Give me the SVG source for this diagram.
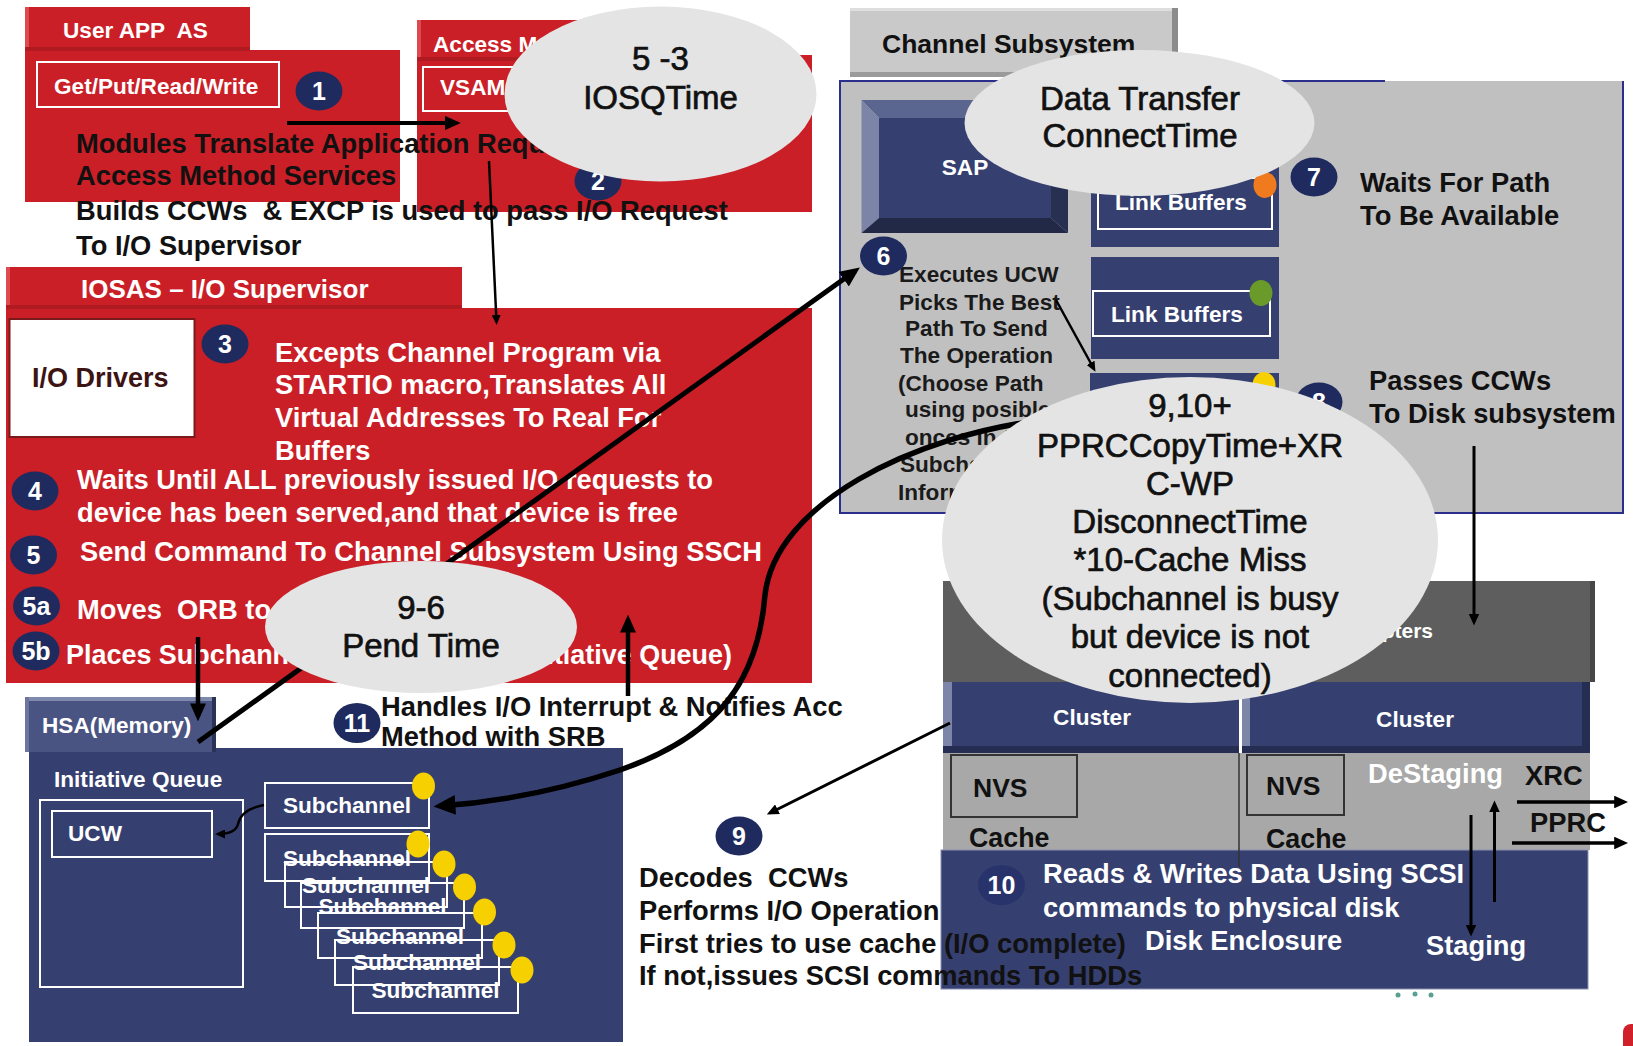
<svg xmlns="http://www.w3.org/2000/svg" width="1633" height="1046" viewBox="0 0 1633 1046">
<style>
  text{font-family:"Liberation Sans",Arial,Helvetica,sans-serif}
  .b{font-weight:bold}
  .s{font-size:22.6px}
  .m{font-size:27.3px}
  .e{font-size:33px;fill:#111;stroke:#111;stroke-width:0.7;text-anchor:middle}
  .w{fill:#fff}
  .k{fill:#111}
  .red{fill:#cb1f27}
  .navy{fill:#364070}
  .wbox{fill:none;stroke:#fff;stroke-width:2}
  .gbox{fill:none;stroke:#333;stroke-width:2}
  .bubble{fill:#e4e4e4}
  .badge ellipse{fill:#1f2b5e}
  .badge text{fill:#fff;font-weight:bold;font-size:25px;text-anchor:middle}
  .ydot{fill:#f6d000}
  .conn path{fill:none;stroke:#000;marker-end:url(#ah)}
</style>
<defs>
  <marker id="ah" viewBox="0 0 10 9" refX="7" refY="4.5" markerWidth="4" markerHeight="3.6" orient="auto" markerUnits="strokeWidth">
    <path d="M0,0 L10,4.5 L0,9 z" fill="#000"/>
  </marker>
</defs>

<rect width="1633" height="1046" fill="#fff"/>

<!-- User application address space -->
<g id="user-app">
  <rect class="red" x="25" y="50" width="375" height="152"/>
  <rect class="red" x="25" y="7" width="225" height="44"/>
  <rect x="25" y="7" width="4" height="44" fill="#dd4a50"/>
  <rect x="25" y="47" width="225" height="4" fill="#b01a21"/>
  <text class="b s w" x="63" y="38" xml:space="preserve">User APP  AS</text>
  <rect class="wbox" x="37" y="62" width="242" height="45"/>
  <text class="b s w" x="54" y="94">Get/Put/Read/Write</text>
</g>

<!-- Access method -->
<g id="access-method">
  <rect class="red" x="417" y="55" width="395" height="157"/>
  <rect class="red" x="417" y="20" width="220" height="41"/>
  <rect x="417" y="20" width="4" height="41" fill="#dd4a50"/>
  <rect x="417" y="57" width="220" height="4" fill="#b01a21"/>
  <text class="b s w" x="433" y="52">Access Method</text>
  <rect class="wbox" x="423" y="67" width="170" height="44"/>
  <text class="b s w" x="440" y="95">VSAM</text>
</g>

<!-- IOS address space -->
<g id="iosas">
  <rect class="red" x="6" y="308" width="806" height="375"/>
  <rect class="red" x="6" y="267" width="456" height="42"/>
  <rect x="6" y="267" width="4" height="42" fill="#dd4a50"/>
  <rect x="6" y="305" width="456" height="4" fill="#b01a21"/>
  <text class="b w" x="81" y="298" font-size="26">IOSAS – I/O Supervisor</text>
  <rect x="9.5" y="319" width="185" height="118" fill="#fff" stroke="#7a1a1a" stroke-width="2"/>
  <text class="b" x="32" y="387" font-size="27" fill="#3d1414">I/O Drivers</text>
  <text class="b m w" x="275" y="362">Excepts Channel Program via</text>
  <text class="b m w" x="275" y="394">STARTIO macro,Translates All</text>
  <text class="b m w" x="275" y="427">Virtual Addresses To Real For</text>
  <text class="b m w" x="275" y="460">Buffers</text>
  <text class="b m w" x="77" y="489">Waits Until ALL previously issued I/O requests to</text>
  <text class="b m w" x="77" y="522">device has been served,and that device is free</text>
  <text class="b m w" x="80" y="561">Send Command To Channel Subsystem Using SSCH</text>
  <text class="b m w" x="77" y="619" xml:space="preserve">Moves  ORB to HSA</text>
  <text class="b m w" x="66" y="664" textLength="666" lengthAdjust="spacingAndGlyphs">Places Subchannel In UCW Queue (Initiative Queue)</text>
</g>

<!-- Explanatory text of steps 1 and 2 -->
<g id="step-text">
  <text class="b m k" x="76" y="153">Modules Translate Application Request To</text>
  <text class="b m k" x="76" y="185">Access Method Services</text>
  <text class="b m k" x="76" y="220" xml:space="preserve">Builds CCWs  &amp; EXCP is used to pass I/O Request</text>
  <text class="b m k" x="76" y="255">To I/O Supervisor</text>
</g>

<!-- HSA memory -->
<g id="hsa">
  <rect class="navy" x="29" y="748" width="594" height="294"/>
  <rect x="25" y="697" width="191" height="55" fill="#4a5482"/>
  <rect x="25" y="697" width="191" height="4" fill="#7f88ad"/>
  <rect x="25" y="697" width="4" height="55" fill="#6c76a0"/>
  <rect x="212" y="697" width="4" height="55" fill="#2a3258"/>
  <text class="b s w" x="42" y="733">HSA(Memory)</text>
  <text class="b s w" x="54" y="787">Initiative Queue</text>
  <rect class="wbox" x="40" y="800" width="203" height="187"/>
  <rect class="wbox" x="52" y="811" width="160" height="46"/>
  <text class="b s w" x="68" y="841">UCW</text>
</g>

<!-- Subchannel stack -->
<g id="subchannels">
  <rect class="wbox" x="265" y="783" width="164" height="45"/>
  <text class="b s w" x="347" y="813" text-anchor="middle">Subchannel</text>
  <ellipse class="ydot" cx="423.5" cy="786" rx="11.5" ry="13.5"/>
  <rect class="wbox" x="265" y="834" width="164" height="47"/>
  <text class="b s w" x="347" y="866" text-anchor="middle">Subchannel</text>
  <ellipse class="ydot" cx="418" cy="844" rx="11.5" ry="13.5"/>
  <rect class="wbox" x="285" y="862" width="162" height="45"/>
  <text class="b s w" x="366" y="893" text-anchor="middle">Subchannel</text>
  <ellipse class="ydot" cx="444" cy="864" rx="11.5" ry="13.5"/>
  <rect class="wbox" x="301" y="883" width="163" height="45"/>
  <text class="b s w" x="382.5" y="914" text-anchor="middle">Subchannel</text>
  <ellipse class="ydot" cx="464.5" cy="887" rx="11.5" ry="13.5"/>
  <rect class="wbox" x="318" y="913" width="164" height="45"/>
  <text class="b s w" x="400" y="944" text-anchor="middle">Subchannel</text>
  <ellipse class="ydot" cx="484.5" cy="912" rx="11.5" ry="13.5"/>
  <rect class="wbox" x="335" y="940" width="164" height="45"/>
  <text class="b s w" x="417" y="970" text-anchor="middle">Subchannel</text>
  <ellipse class="ydot" cx="504" cy="945" rx="11.5" ry="13.5"/>
  <rect class="wbox" x="353" y="967" width="165" height="46"/>
  <text class="b s w" x="435.5" y="998" text-anchor="middle">Subchannel</text>
  <ellipse class="ydot" cx="522" cy="970" rx="11.5" ry="13.5"/>
</g>

<!-- Channel subsystem -->
<g id="channel-subsystem">
  <rect x="840" y="81" width="783" height="432" fill="#c0c0c0"/>
  <path d="M1385,81 H840 V513 H1623 V81" fill="none" stroke="#2b2f8c" stroke-width="2"/>
  <rect x="850" y="8" width="328" height="69" fill="#c9c9c9"/>
  <rect x="850" y="8" width="328" height="3" fill="#dedede"/>
  <rect x="1172" y="8" width="6" height="69" fill="#8c8c8c"/>
  <rect x="850" y="72" width="328" height="5" fill="#9a9a9a"/>
  <text class="b k" x="882" y="53" font-size="26.5">Channel Subsystem</text>
</g>

<g id="sap">
  <polygon points="861.5,100 1068,100 1051,118 879,118" fill="#5b6690"/>
  <polygon points="861.5,100 879,118 879,218 861.5,233" fill="#7c85a7"/>
  <polygon points="1068,100 1068,233 1051,218 1051,118" fill="#283052"/>
  <polygon points="861.5,233 879,218 1051,218 1068,233" fill="#222947"/>
  <rect class="navy" x="879" y="118" width="172" height="100"/>
  <text class="b s w" x="965" y="175" text-anchor="middle">SAP</text>
</g>

<g id="link-buffers">
  <rect class="navy" x="1091" y="140" width="188" height="107"/>
  <rect class="wbox" x="1098" y="178" width="174" height="51"/>
  <text class="b s w" x="1115" y="210">Link Buffers</text>
  <ellipse cx="1265" cy="185" rx="11.5" ry="13" fill="#f07a1e"/>
  <rect class="navy" x="1091" y="257" width="188" height="102"/>
  <rect class="wbox" x="1093" y="291" width="177" height="45"/>
  <text class="b s w" x="1111" y="322">Link Buffers</text>
  <ellipse cx="1261" cy="293" rx="11.5" ry="13" fill="#6a9a2a"/>
  <rect class="navy" x="1090" y="373" width="189" height="105"/>
  <ellipse class="ydot" cx="1264" cy="385" rx="11.5" ry="13"/>
</g>

<g id="step6-text" class="b s" fill="#1a1a1a">
  <text x="899" y="282">Executes UCW</text>
  <text x="899" y="310">Picks The Best</text>
  <text x="905" y="336">Path To Send</text>
  <text x="900" y="363">The Operation</text>
  <text x="898" y="391">(Choose Path</text>
  <text x="905" y="417">using posible paths</text>
  <text x="905" y="445">onces in the</text>
  <text x="900" y="472">Subchannel</text>
  <text x="898" y="500">Information)</text>
</g>

<g id="step7-text" class="b m k">
  <text x="1360" y="192">Waits For Path</text>
  <text x="1360" y="225">To Be Available</text>
</g>

<g id="step8-text" class="b m k">
  <text x="1369" y="390">Passes CCWs</text>
  <text x="1369" y="423">To Disk subsystem</text>
</g>

<!-- Disk subsystem -->
<g id="disk-subsystem">
  <rect x="943" y="581" width="652" height="101" fill="#5e5e5e"/>
  <rect x="1590" y="581" width="5" height="101" fill="#474747"/>
  <text class="b w" x="1433" y="638" font-size="21" text-anchor="end">Host Adapters</text>
  <rect x="943" y="753" width="647" height="97" fill="#a8a8a8"/>
  <rect class="navy" x="943" y="682" width="296" height="71"/>
  <rect x="943" y="682" width="9" height="71" fill="#7d86a8"/>
  <rect x="943" y="746" width="296" height="7" fill="#252d52"/>
  <text class="b s w" x="1092" y="725" text-anchor="middle">Cluster</text>
  <rect class="navy" x="1242" y="682" width="348" height="71"/>
  <rect x="1242" y="682" width="8" height="71" fill="#7d86a8"/>
  <rect x="1242" y="746" width="348" height="7" fill="#252d52"/>
  <polygon points="1582,682 1590,682 1590,753 1582,746" fill="#252d52"/>
  <text class="b s w" x="1415" y="727" text-anchor="middle">Cluster</text>
  <rect class="gbox" x="951" y="755" width="126" height="62"/>
  <text class="b k" x="973" y="797" font-size="26.5">NVS</text>
  <rect class="gbox" x="1247" y="755" width="97" height="60"/>
  <text class="b k" x="1266" y="795" font-size="26.5">NVS</text>
  <text class="b k" x="969" y="847" font-size="26.8">Cache</text>
  <text class="b k" x="1266" y="848" font-size="26.8">Cache</text>
  <text class="b m w" x="1368" y="783">DeStaging</text>
  <text class="b m k" x="1525" y="785">XRC</text>
  <text class="b m k" x="1530" y="832">PPRC</text>
  <rect class="navy" x="941" y="850" width="647" height="139" stroke="#8a90b0" stroke-width="1"/>
  <line x1="1239" y1="753" x2="1239" y2="867" stroke="#333" stroke-width="1.5"/>
  <text class="b m w" x="1043" y="883">Reads &amp; Writes Data Using SCSI</text>
  <text class="b m w" x="1043" y="917">commands to physical disk</text>
  <text class="b m w" x="1145" y="950">Disk Enclosure</text>
  <text class="b m w" x="1426" y="955">Staging</text>
  <circle cx="1398" cy="995" r="2.5" fill="#5aa090"/>
  <circle cx="1415" cy="994" r="2.5" fill="#5aa090"/>
  <circle cx="1431" cy="995" r="2.5" fill="#5aa090"/>
  <rect x="1623" y="1024" width="20" height="30" rx="8" fill="#d0202a"/>
</g>

<g id="step9-text" class="b m k">
  <text x="639" y="887" xml:space="preserve">Decodes  CCWs</text>
  <text x="639" y="920">Performs I/O Operation</text>
  <text x="639" y="953">First tries to use cache (I/O complete)</text>
  <text x="639" y="985">If not,issues SCSI commands To HDDs</text>
</g>

<g id="step11-text" class="b m k">
  <text x="381" y="716">Handles I/O Interrupt &amp; Notifies Acc</text>
  <text x="381" y="746">Method with SRB</text>
</g>

<!-- Step badges -->
<g id="badges" class="badge">
  <g id="badge-1"><ellipse cx="319" cy="91" rx="23.5" ry="19.5"/><text x="319" y="100">1</text></g>
  <g id="badge-2"><ellipse cx="598" cy="181" rx="23.5" ry="19.5"/><text x="598" y="190">2</text></g>
  <g id="badge-3"><ellipse cx="225" cy="344" rx="23.5" ry="19.5"/><text x="225" y="353">3</text></g>
  <g id="badge-4"><ellipse cx="35" cy="491" rx="23.5" ry="19.5"/><text x="35" y="500">4</text></g>
  <g id="badge-5"><ellipse cx="33.5" cy="555" rx="23.5" ry="19.5"/><text x="33.5" y="564">5</text></g>
  <g id="badge-5a"><ellipse cx="36.5" cy="606" rx="23.5" ry="19.5"/><text x="36.5" y="615">5a</text></g>
  <g id="badge-5b"><ellipse cx="36" cy="651" rx="23.5" ry="19.5"/><text x="36" y="660">5b</text></g>
  <g id="badge-6"><ellipse cx="883.5" cy="256" rx="23.5" ry="19.5"/><text x="883.5" y="265">6</text></g>
  <g id="badge-7"><ellipse cx="1314" cy="177" rx="23.5" ry="19.5"/><text x="1314" y="186">7</text></g>
  <g id="badge-8"><ellipse cx="1319" cy="402" rx="23.5" ry="19.5"/><text x="1319" y="411">8</text></g>
  <g id="badge-9"><ellipse cx="739" cy="836" rx="23.5" ry="19.5"/><text x="739" y="845">9</text></g>
  <g id="badge-10"><ellipse cx="1001.5" cy="885" rx="23.5" ry="20" style="fill:#27336a"/><text x="1001.5" y="894">10</text></g>
  <g id="badge-11"><ellipse cx="357" cy="723" rx="23.5" ry="20"/><text x="357" y="732">11</text></g>
</g>

<!-- Connectors -->
<g id="connectors" class="conn">
  <path d="M287,123 L456,123" stroke-width="4"/>
  <path d="M489,161 L496.5,322" stroke-width="2.5"/>
  <path d="M198,637 L198,716" stroke-width="4.5"/>
  <path d="M628,696 L628,620" stroke-width="4.5"/>
  <path d="M198,742 L855,271" stroke-width="5"/>
  <path d="M1050,419 C910,435 775,505 765,595 C758,680 720,735 620,770 C560,790 500,802 440,806" stroke-width="5.5"/>
  <path d="M264,805 C248,808 240,815 238,824 C236,832 228,834 218,834" stroke-width="2.5"/>
  <path d="M1056,300 L1094,369" stroke-width="2.5"/>
  <path d="M1474,446 L1474,622" stroke-width="3"/>
  <path d="M950,723 L770,813" stroke-width="3"/>
  <path d="M1517,802 L1624,802" stroke-width="3.5"/>
  <path d="M1512,843 L1624,843" stroke-width="3.5"/>
  <path d="M1471,815 L1471,933" stroke-width="3"/>
  <path d="M1494.5,902 L1494.5,804" stroke-width="3"/>
</g>

<!-- Timing callouts -->
<g id="callout-iosq">
  <ellipse class="bubble" cx="660.5" cy="94" rx="156" ry="87.5"/>
  <text class="e" x="660.5" y="70">5 -3</text>
  <text class="e" x="660.5" y="109">IOSQTime</text>
</g>
<g id="callout-connect">
  <ellipse class="bubble" cx="1139.5" cy="123" rx="175" ry="73"/>
  <text class="e" x="1140" y="110">Data Transfer</text>
  <text class="e" x="1140" y="147">ConnectTime</text>
</g>
<g id="callout-pend">
  <ellipse class="bubble" cx="421" cy="627" rx="156" ry="66"/>
  <text class="e" x="421" y="619">9-6</text>
  <text class="e" x="421" y="657">Pend Time</text>
</g>
<g id="callout-disconnect">
  <ellipse class="bubble" cx="1190" cy="540" rx="248" ry="163"/>
  <text class="e" x="1190" y="417">9,10+</text>
  <text class="e" x="1190" y="457">PPRCCopyTime+XR</text>
  <text class="e" x="1190" y="495">C-WP</text>
  <text class="e" x="1190" y="533">DisconnectTime</text>
  <text class="e" x="1190" y="571">*10-Cache Miss</text>
  <text class="e" x="1190" y="610">(Subchannel is busy</text>
  <text class="e" x="1190" y="648">but device is not</text>
  <text class="e" x="1190" y="687">connected)</text>
</g>
</svg>
